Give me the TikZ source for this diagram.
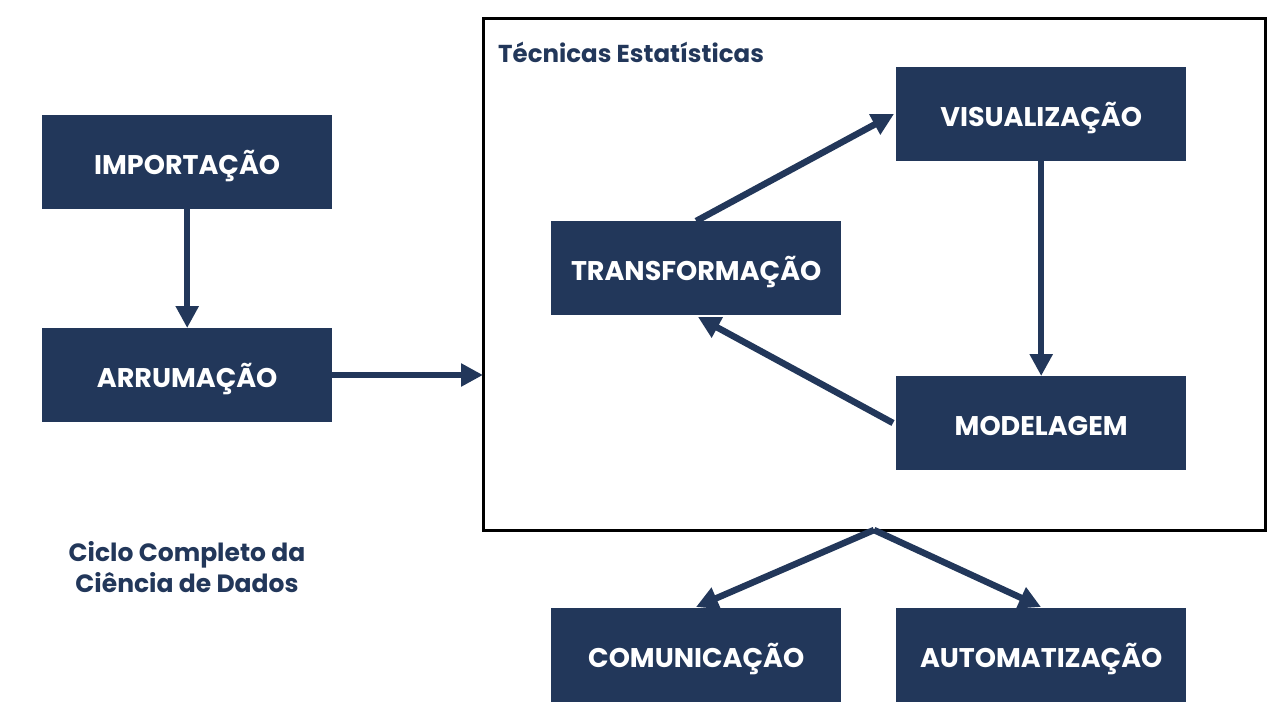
\documentclass[tikz,border=0pt]{standalone}
\usepackage{fontspec}
\setmainfont{Poppins}[BoldFont={* Bold}]
\usetikzlibrary{arrows.meta}
\definecolor{navy}{HTML}{22375A}
\tikzset{
  box/.style={fill=navy, minimum width=290pt, minimum height=94pt, inner sep=0pt,
    text=white, font=\fontsize{27}{30}\selectfont\bfseries, anchor=north west,
    text depth=0pt, text height=24pt},
  conn/.style={draw=navy, line width=6.5pt, -{Triangle[length=22pt,width=22pt]}}
}
\begin{document}
\begin{tikzpicture}[x=1pt,y=-1pt]
\useasboundingbox (0,0) rectangle (1280,720);
\node[box] (imp) at (42,115) {IMPORTAÇÃO};
\node[box] (arr) at (42,328) {ARRUMAÇÃO};
\node[box] (tra) at (551,221) {TRANSFORMAÇÃO};
\node[box] (vis) at (896,67) {VISUALIZAÇÃO};
\node[box] (mod) at (896,376) {MODELAGEM};
\node[box] (com) at (551,608) {COMUNICAÇÃO};
\node[box] (aut) at (896,608) {AUTOMATIZAÇÃO};
\draw[line width=3pt] (483,18) rectangle (1265,530);
\node[anchor=base west, inner sep=0pt, text=navy, font=\fontsize{24.5}{28}\selectfont\bfseries] (tit) at (498,62) {Técnicas Estatísticas};
\node[align=center, text=navy, font=\fontsize{25}{31}\selectfont\bfseries] (cic) at (187,567) {Ciclo Completo da\\Ciência de Dados};
\coordinate (fl) at (483,375);
\coordinate (fb) at (874,530);
\draw[conn] (imp.south) -- (arr.north);
\draw[conn] (arr.east |- fl) -- (fl);
\draw[conn] (tra.north) -- (894,114);
\draw[conn] (vis.south) -- (mod.north);
\draw[conn] (893,423) -- (698,317);
\draw[conn] (fb) -- (696,607);
\draw[conn] (fb) -- (1041,607);
\end{tikzpicture}
\end{document}
